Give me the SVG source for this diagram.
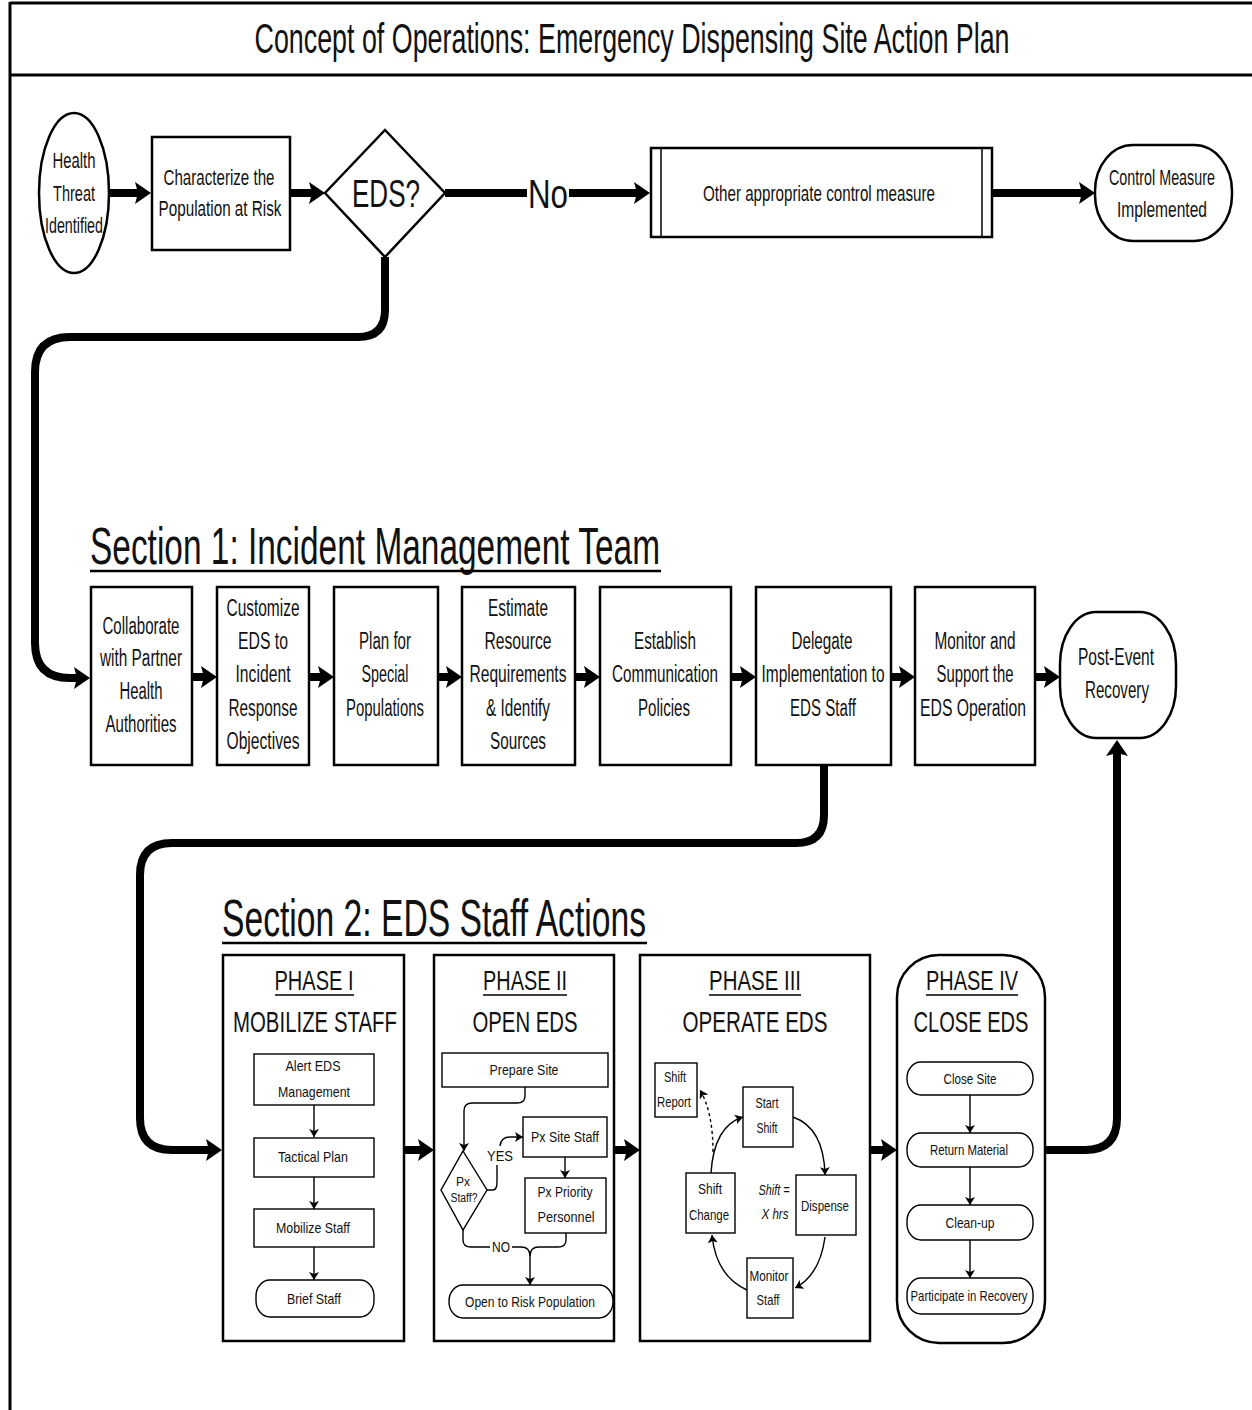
<svg xmlns="http://www.w3.org/2000/svg" width="1252" height="1410" viewBox="0 0 1252 1410">
<style>
text{font-family:"Liberation Sans",Arial,sans-serif;fill:#111;text-anchor:middle}
.t22{font-size:22px}
.t23{font-size:23px}
.t15{font-size:15px}
.box{fill:#fff;stroke:#000;stroke-width:2.5}
.ibox{fill:#fff;stroke:#000;stroke-width:1.4}
.big{fill:none;stroke:#000;stroke-width:8}
.thin{fill:none;stroke:#000;stroke-width:1.4}
.ul{stroke:#000;stroke-width:2.5}
</style>
<defs>
<marker id="ah" markerUnits="userSpaceOnUse" viewBox="0 0 16 22" refX="4" refY="11" markerWidth="16" markerHeight="22" orient="auto"><path d="M0,0 L16,11 L0,22 L3,11 z" fill="#000"/></marker>
<marker id="sa" markerUnits="userSpaceOnUse" viewBox="0 0 8 10" refX="8" refY="5" markerWidth="8" markerHeight="10" orient="auto"><path d="M0,0 L8,5 L0,10 L2,5 z" fill="#000"/></marker>
</defs>
<rect width="1252" height="1410" fill="#fff"/>
<g id="frame">
<line x1="10" y1="3" x2="1252" y2="3" stroke="#000" stroke-width="3"/>
<line x1="10" y1="75" x2="1252" y2="75" stroke="#000" stroke-width="3"/>
<line x1="10" y1="2" x2="10" y2="1410" stroke="#000" stroke-width="3"/>
<text x="632" y="53" style="font-size:42px" textLength="755" lengthAdjust="spacingAndGlyphs">Concept of Operations: Emergency Dispensing Site Action Plan</text>
</g>
<g id="n-health">
<ellipse cx="74" cy="193" rx="35" ry="80" class="box"/>
<text class="t22" x="74" y="168" textLength="43" lengthAdjust="spacingAndGlyphs">Health</text>
<text class="t22" x="74" y="201" textLength="42" lengthAdjust="spacingAndGlyphs">Threat</text>
<text class="t22" x="74" y="233" textLength="58" lengthAdjust="spacingAndGlyphs">Identified</text>
</g>
<g id="n-characterize">
<rect x="152" y="137" width="138" height="113" class="box"/>
<text class="t22" x="219" y="185" textLength="111" lengthAdjust="spacingAndGlyphs">Characterize the</text>
<text class="t22" x="220" y="216" textLength="123" lengthAdjust="spacingAndGlyphs">Population at Risk</text>
</g>
<g id="n-eds">
<polygon points="385,130 445,193 385,257 325,193" class="box"/>
<text x="386" y="207" style="font-size:38px" textLength="68" lengthAdjust="spacingAndGlyphs">EDS?</text>
</g>
<g id="l-no">
<text x="548" y="208" style="font-size:40px" textLength="40" lengthAdjust="spacingAndGlyphs">No</text>
</g>
<g id="n-other">
<rect x="651" y="148" width="341" height="89" class="box"/>
<line x1="661" y1="148" x2="661" y2="237" stroke="#000" stroke-width="1.5"/>
<line x1="982" y1="148" x2="982" y2="237" stroke="#000" stroke-width="1.5"/>
<text class="t22" x="819" y="201" textLength="232" lengthAdjust="spacingAndGlyphs">Other appropriate control measure</text>
</g>
<g id="n-control">
<rect x="1095" y="145" width="137" height="96" rx="38" ry="46" class="box"/>
<text class="t22" x="1162" y="185" textLength="106" lengthAdjust="spacingAndGlyphs">Control Measure</text>
<text class="t22" x="1162" y="217" textLength="90" lengthAdjust="spacingAndGlyphs">Implemented</text>
</g>
<g id="sec1">
<text x="375" y="564" style="font-size:52px" textLength="570" lengthAdjust="spacingAndGlyphs">Section 1: Incident Management Team</text>
<line x1="90" y1="571" x2="661" y2="571" class="ul"/>
</g>
<g id="n-collab">
<rect x="91" y="587" width="101" height="178" class="box"/>
<text class="t23" x="141" y="634" textLength="77" lengthAdjust="spacingAndGlyphs">Collaborate</text>
<text class="t23" x="141" y="666" textLength="82" lengthAdjust="spacingAndGlyphs">with Partner</text>
<text class="t23" x="141" y="699" textLength="43" lengthAdjust="spacingAndGlyphs">Health</text>
<text class="t23" x="141" y="732" textLength="71" lengthAdjust="spacingAndGlyphs">Authorities</text>
</g>
<g id="n-customize">
<rect x="217" y="587" width="92" height="178" class="box"/>
<text class="t23" x="263" y="616" textLength="73" lengthAdjust="spacingAndGlyphs">Customize</text>
<text class="t23" x="263" y="649" textLength="50" lengthAdjust="spacingAndGlyphs">EDS to</text>
<text class="t23" x="263" y="682" textLength="55" lengthAdjust="spacingAndGlyphs">Incident</text>
<text class="t23" x="263" y="716" textLength="69" lengthAdjust="spacingAndGlyphs">Response</text>
<text class="t23" x="263" y="749" textLength="73" lengthAdjust="spacingAndGlyphs">Objectives</text>
</g>
<g id="n-plan">
<rect x="334" y="587" width="104" height="178" class="box"/>
<text class="t23" x="385" y="649" textLength="52" lengthAdjust="spacingAndGlyphs">Plan for</text>
<text class="t23" x="385" y="682" textLength="47" lengthAdjust="spacingAndGlyphs">Special</text>
<text class="t23" x="385" y="716" textLength="78" lengthAdjust="spacingAndGlyphs">Populations</text>
</g>
<g id="n-estimate">
<rect x="462" y="587" width="113" height="178" class="box"/>
<text class="t23" x="518" y="616" textLength="60" lengthAdjust="spacingAndGlyphs">Estimate</text>
<text class="t23" x="518" y="649" textLength="67" lengthAdjust="spacingAndGlyphs">Resource</text>
<text class="t23" x="518" y="682" textLength="97" lengthAdjust="spacingAndGlyphs">Requirements</text>
<text class="t23" x="518" y="716" textLength="64" lengthAdjust="spacingAndGlyphs">&amp; Identify</text>
<text class="t23" x="518" y="749" textLength="56" lengthAdjust="spacingAndGlyphs">Sources</text>
</g>
<g id="n-establish">
<rect x="600" y="587" width="131" height="178" class="box"/>
<text class="t23" x="665" y="649" textLength="62" lengthAdjust="spacingAndGlyphs">Establish</text>
<text class="t23" x="665" y="682" textLength="106" lengthAdjust="spacingAndGlyphs">Communication</text>
<text class="t23" x="664" y="716" textLength="52" lengthAdjust="spacingAndGlyphs">Policies</text>
</g>
<g id="n-delegate">
<rect x="756" y="587" width="135" height="178" class="box"/>
<text class="t23" x="822" y="649" textLength="61" lengthAdjust="spacingAndGlyphs">Delegate</text>
<text class="t23" x="823" y="682" textLength="123" lengthAdjust="spacingAndGlyphs">Implementation to</text>
<text class="t23" x="823" y="716" textLength="66" lengthAdjust="spacingAndGlyphs">EDS Staff</text>
</g>
<g id="n-monitor">
<rect x="915" y="587" width="120" height="178" class="box"/>
<text class="t23" x="975" y="649" textLength="81" lengthAdjust="spacingAndGlyphs">Monitor and</text>
<text class="t23" x="975" y="682" textLength="77" lengthAdjust="spacingAndGlyphs">Support the</text>
<text class="t23" x="973" y="716" textLength="106" lengthAdjust="spacingAndGlyphs">EDS Operation</text>
</g>
<g id="n-post">
<rect x="1060" y="612" width="116" height="126" rx="36" ry="52" class="box"/>
<text class="t23" x="1116" y="665" textLength="76" lengthAdjust="spacingAndGlyphs">Post-Event</text>
<text class="t23" x="1117" y="698" textLength="64" lengthAdjust="spacingAndGlyphs">Recovery</text>
</g>
<g id="sec2">
<text x="434" y="936" style="font-size:52px" textLength="424" lengthAdjust="spacingAndGlyphs">Section 2: EDS Staff Actions</text>
<line x1="222" y1="943" x2="647" y2="943" class="ul"/>
</g>
<g id="phase1">
<rect x="223" y="955" width="181" height="386" class="box"/>
<text x="314" y="990" style="font-size:28px" textLength="79" lengthAdjust="spacingAndGlyphs">PHASE I</text>
<line x1="275" y1="995" x2="354" y2="995" stroke="#000" stroke-width="1.5"/>
<text x="315" y="1032" style="font-size:30px" textLength="164" lengthAdjust="spacingAndGlyphs">MOBILIZE STAFF</text>
<g id="p1-alert"><rect x="254" y="1054" width="120" height="51" class="ibox"/>
<text class="t15" x="313" y="1071" textLength="55" lengthAdjust="spacingAndGlyphs">Alert EDS</text>
<text class="t15" x="314" y="1097" textLength="72" lengthAdjust="spacingAndGlyphs">Management</text></g>
<g id="p1-tactical"><rect x="254" y="1138" width="120" height="39" class="ibox"/>
<text class="t15" x="313" y="1162" textLength="70" lengthAdjust="spacingAndGlyphs">Tactical Plan</text></g>
<g id="p1-mobilize"><rect x="254" y="1209" width="120" height="38" class="ibox"/>
<text class="t15" x="313" y="1233" textLength="74" lengthAdjust="spacingAndGlyphs">Mobilize Staff</text></g>
<g id="p1-brief"><rect x="256" y="1280" width="118" height="37" rx="14" ry="16" class="ibox"/>
<text class="t15" x="314" y="1304" textLength="54" lengthAdjust="spacingAndGlyphs">Brief Staff</text></g>
</g>
<g id="phase2">
<rect x="434" y="955" width="180" height="386" class="box"/>
<text x="525" y="990" style="font-size:28px" textLength="84" lengthAdjust="spacingAndGlyphs">PHASE II</text>
<line x1="483" y1="995" x2="567" y2="995" stroke="#000" stroke-width="1.5"/>
<text x="525" y="1032" style="font-size:30px" textLength="105" lengthAdjust="spacingAndGlyphs">OPEN EDS</text>
<g id="p2-prepare"><rect x="442" y="1053" width="166" height="34" class="ibox"/>
<text class="t15" x="524" y="1075" textLength="69" lengthAdjust="spacingAndGlyphs">Prepare Site</text></g>
<g id="p2-px"><polygon points="463,1151 487,1190 463,1230 441,1190" class="ibox"/>
<text x="463" y="1186" style="font-size:12px" textLength="14" lengthAdjust="spacingAndGlyphs">Px</text>
<text x="464" y="1202" style="font-size:12px" textLength="27" lengthAdjust="spacingAndGlyphs">Staff?</text></g>
<text class="t15" x="500" y="1161" textLength="26" lengthAdjust="spacingAndGlyphs">YES</text>
<g id="p2-site"><rect x="523" y="1117" width="84" height="40" class="ibox"/>
<text class="t15" x="565" y="1142" textLength="68" lengthAdjust="spacingAndGlyphs">Px Site Staff</text></g>
<g id="p2-priority"><rect x="525" y="1178" width="81" height="55" class="ibox"/>
<text class="t15" x="565" y="1197" textLength="55" lengthAdjust="spacingAndGlyphs">Px Priority</text>
<text class="t15" x="566" y="1222" textLength="57" lengthAdjust="spacingAndGlyphs">Personnel</text></g>
<text class="t15" x="501" y="1252" textLength="18" lengthAdjust="spacingAndGlyphs">NO</text>
<g id="p2-open"><rect x="449" y="1285" width="164" height="33" rx="14" ry="16" class="ibox"/>
<text class="t15" x="530" y="1307" textLength="130" lengthAdjust="spacingAndGlyphs">Open to Risk Population</text></g>
</g>
<g id="phase3">
<rect x="640" y="955" width="230" height="386" class="box"/>
<text x="755" y="990" style="font-size:28px" textLength="92" lengthAdjust="spacingAndGlyphs">PHASE III</text>
<line x1="709" y1="995" x2="801" y2="995" stroke="#000" stroke-width="1.5"/>
<text x="755" y="1032" style="font-size:30px" textLength="145" lengthAdjust="spacingAndGlyphs">OPERATE EDS</text>
<g id="p3-report"><rect x="655" y="1063" width="42" height="54" class="ibox"/>
<text class="t15" x="675" y="1082" textLength="22" lengthAdjust="spacingAndGlyphs">Shift</text>
<text class="t15" x="674" y="1107" textLength="34" lengthAdjust="spacingAndGlyphs">Report</text></g>
<g id="p3-start"><rect x="743" y="1087" width="50" height="60" class="ibox"/>
<text class="t15" x="767" y="1108" textLength="23" lengthAdjust="spacingAndGlyphs">Start</text>
<text class="t15" x="767" y="1133" textLength="21" lengthAdjust="spacingAndGlyphs">Shift</text></g>
<g id="p3-dispense"><rect x="796" y="1175" width="60" height="60" class="ibox"/>
<text class="t15" x="825" y="1211" textLength="48" lengthAdjust="spacingAndGlyphs">Dispense</text></g>
<g id="p3-monitor"><rect x="747" y="1258" width="46" height="60" class="ibox"/>
<text class="t15" x="769" y="1281" textLength="39" lengthAdjust="spacingAndGlyphs">Monitor</text>
<text class="t15" x="768" y="1305" textLength="23" lengthAdjust="spacingAndGlyphs">Staff</text></g>
<g id="p3-change"><rect x="686" y="1173" width="49" height="60" class="ibox"/>
<text class="t15" x="710" y="1194" textLength="24" lengthAdjust="spacingAndGlyphs">Shift</text>
<text class="t15" x="709" y="1220" textLength="40" lengthAdjust="spacingAndGlyphs">Change</text></g>
<text class="t15" x="774" y="1195" style="font-style:italic" textLength="31" lengthAdjust="spacingAndGlyphs">Shift =</text>
<text class="t15" x="775" y="1219" style="font-style:italic" textLength="27" lengthAdjust="spacingAndGlyphs">X hrs</text>
</g>
<g id="phase4">
<rect x="897" y="955" width="148" height="388" rx="42" ry="42" class="box"/>
<text x="972" y="990" style="font-size:28px" textLength="92" lengthAdjust="spacingAndGlyphs">PHASE IV</text>
<line x1="926" y1="995" x2="1018" y2="995" stroke="#000" stroke-width="1.5"/>
<text x="971" y="1032" style="font-size:30px" textLength="115" lengthAdjust="spacingAndGlyphs">CLOSE EDS</text>
<g id="p4-close"><rect x="907" y="1062" width="126" height="33" rx="14" ry="16" class="ibox"/>
<text class="t15" x="970" y="1084" textLength="53" lengthAdjust="spacingAndGlyphs">Close Site</text></g>
<g id="p4-return"><rect x="907" y="1133" width="126" height="34" rx="14" ry="16" class="ibox"/>
<text class="t15" x="969" y="1155" textLength="78" lengthAdjust="spacingAndGlyphs">Return Material</text></g>
<g id="p4-clean"><rect x="907" y="1205" width="126" height="35" rx="14" ry="16" class="ibox"/>
<text class="t15" x="970" y="1228" textLength="49" lengthAdjust="spacingAndGlyphs">Clean-up</text></g>
<g id="p4-participate"><rect x="907" y="1278" width="126" height="36" rx="14" ry="16" class="ibox"/>
<text class="t15" x="969" y="1301" textLength="117" lengthAdjust="spacingAndGlyphs">Participate in Recovery</text></g>
</g>
<g id="connectors">
<path class="big" d="M108,193 H139" marker-end="url(#ah)"/>
<path class="big" d="M290,193 H313" marker-end="url(#ah)"/>
<path class="big" d="M445,193 H527"/>
<path class="big" d="M569,193 H638" marker-end="url(#ah)"/>
<path class="big" d="M992,193 H1083" marker-end="url(#ah)"/>
<path class="big" d="M385,257 V310 Q385,337 358,337 H70 Q35,337 35,372 V643 Q35,678 70,678 H78" marker-end="url(#ah)"/>
<path class="big" d="M192,677 H205" marker-end="url(#ah)"/>
<path class="big" d="M309,677 H322" marker-end="url(#ah)"/>
<path class="big" d="M438,677 H450" marker-end="url(#ah)"/>
<path class="big" d="M575,677 H588" marker-end="url(#ah)"/>
<path class="big" d="M731,677 H744" marker-end="url(#ah)"/>
<path class="big" d="M891,677 H903" marker-end="url(#ah)"/>
<path class="big" d="M1035,677 H1048" marker-end="url(#ah)"/>
<path class="big" d="M824,765 V815 Q824,843 796,843 H172 Q140,843 140,875 V1118 Q140,1150 172,1150 H210" marker-end="url(#ah)"/>
<path class="big" d="M404,1150 H422" marker-end="url(#ah)"/>
<path class="big" d="M614,1150 H628" marker-end="url(#ah)"/>
<path class="big" d="M870,1150 H885" marker-end="url(#ah)"/>
<path class="big" d="M1045,1150 H1085 Q1117,1150 1117,1118 V752" marker-end="url(#ah)"/>
<path class="thin" d="M314,1105 V1137" marker-end="url(#sa)"/>
<path class="thin" d="M314,1177 V1209" marker-end="url(#sa)"/>
<path class="thin" d="M314,1247 V1280" marker-end="url(#sa)"/>
<path class="thin" d="M525,1087 V1096 Q525,1103 517,1103 H472 Q464,1103 464,1111 V1151" marker-end="url(#sa)"/>
<path class="thin" d="M487,1190 H493 Q497,1190 497,1182 V1165"/>
<path class="thin" d="M500,1146 Q501,1137 510,1137 H523" marker-end="url(#sa)"/>
<path class="thin" d="M565,1157 V1178" marker-end="url(#sa)"/>
<path class="thin" d="M463,1230 V1240 Q463,1247 471,1247 H490"/>
<path class="thin" d="M512,1247 H521 Q530,1247 530,1256 V1285" marker-end="url(#sa)"/>
<path class="thin" d="M566,1233 V1240 Q566,1247 558,1247 H539 Q530,1247 530,1256"/>
<path class="thin" d="M793,1117 Q824,1128 825,1175" marker-end="url(#sa)"/>
<path class="thin" d="M825,1237 Q820,1275 795,1288" marker-end="url(#sa)"/>
<path class="thin" d="M747,1290 Q716,1276 712,1235" marker-end="url(#sa)"/>
<path class="thin" d="M711,1173 Q714,1126 743,1117" marker-end="url(#sa)"/>
<path class="thin" d="M713,1152 Q713,1112 700,1090" stroke-dasharray="3,3" stroke-width="2" marker-end="url(#sa)"/>
<path class="thin" d="M970,1095 V1133" marker-end="url(#sa)"/>
<path class="thin" d="M970,1167 V1205" marker-end="url(#sa)"/>
<path class="thin" d="M970,1240 V1278" marker-end="url(#sa)"/>
</g>
</svg>
